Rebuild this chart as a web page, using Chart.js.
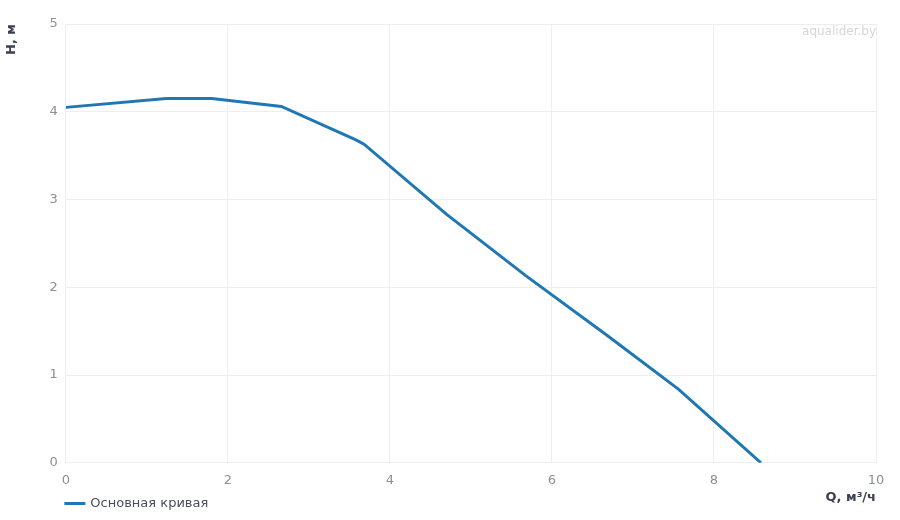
<!DOCTYPE html>
<html>
<head>
<meta charset="utf-8">
<script src="https://cdn.jsdelivr.net/npm/chart.js@4"></script>
<style>
  html, body { margin: 0; padding: 0; background: #fff; }
  #wrap { width: 900px; height: 520px; }
</style>
</head>
<body>
<div id="wrap"><canvas id="chart_for_pump"></canvas></div>
<script>
const flowQ = [0, 1.24, 1.8, 2.66, 3.58, 3.68, 4.7, 5.68, 6.67, 7.56, 8.58];
const headH = [4.05, 4.15, 4.15, 4.06, 3.68, 3.63, 2.83, 2.13, 1.46, 0.84, 0.0];
const seriesName = 'Основная кривая';
const xTitle = 'Q, м³/ч';
const yTitle = 'H, м';
const watermark = 'aqualider.by';

Chart.defaults.font.family = '"DejaVu Sans", sans-serif';

const watermarkPlugin = {
  id: 'watermark',
  afterDraw(chart) {
    const { ctx, chartArea } = chart;
    ctx.save();
    ctx.font = '12px "DejaVu Sans", sans-serif';
    ctx.fillStyle = '#d3d6dc';
    ctx.textAlign = 'right';
    ctx.textBaseline = 'top';
    ctx.fillText(watermark, chartArea.right, chartArea.top + 2);
    ctx.restore();
  }
};

// push the legend so it starts under the plot area, not at the canvas edge
const legendShift = {
  id: 'legendShift',
  afterLayout(chart) {
    const lg = chart.legend;
    if (!lg) return;
    const pad = lg.options.labels.padding;
    lg.left = chart.chartArea.left - pad;
    lg.adjustHitBoxes();
  }
};

const chartData = {
  datasets: [{
    label: seriesName,
    data: flowQ.map((q, i) => ({ x: q, y: headH[i] })),
    borderColor: '#1f77b4',
    backgroundColor: '#1f77b4',
    borderWidth: 3,
    pointRadius: 0,
    fill: false,
    tension: 0
  }]
};

const chartConfig = {
  type: 'line',
  data: chartData,
  plugins: [watermarkPlugin, legendShift],
  options: {
    responsive: true,
    maintainAspectRatio: false,
    animation: false,
    layout: { padding: { left: 0, right: 24, top: 24, bottom: 0 } },
    plugins: {
      legend: {
        position: 'bottom',
        align: 'start',
        labels: {
          boxWidth: 18,
          boxHeight: 0.01,
          color: '#4a4f5c',
          font: { size: 13 },
          padding: 5
        }
      },
      tooltip: { enabled: false }
    },
    scales: {
      x: {
        type: 'linear',
        min: 0,
        max: 10,
        ticks: { stepSize: 2, color: '#8a8f9c', font: { size: 13 }, padding: 10 },
        grid: { color: '#eceef2', drawTicks: false },
        border: { color: '#eceef2' },
        title: {
          display: true,
          text: xTitle,
          align: 'end',
          color: '#3c4150',
          font: { size: 13, weight: 'bold' },
          padding: { top: -9, bottom: -13 }
        }
      },
      y: {
        min: 0,
        max: 5,
        ticks: { stepSize: 1, color: '#8a8f9c', font: { size: 13 }, padding: 8 },
        grid: { color: '#eceef2', drawTicks: false },
        border: { color: '#eceef2' },
        title: {
          display: true,
          text: yTitle,
          align: 'end',
          color: '#3c4150',
          font: { size: 13, weight: 'bold' },
          padding: { top: 4, bottom: 22 }
        }
      }
    }
  }
};

const chartElement = document.getElementById('chart_for_pump');
const chart = new Chart(chartElement, chartConfig);
</script>
</body>
</html>
